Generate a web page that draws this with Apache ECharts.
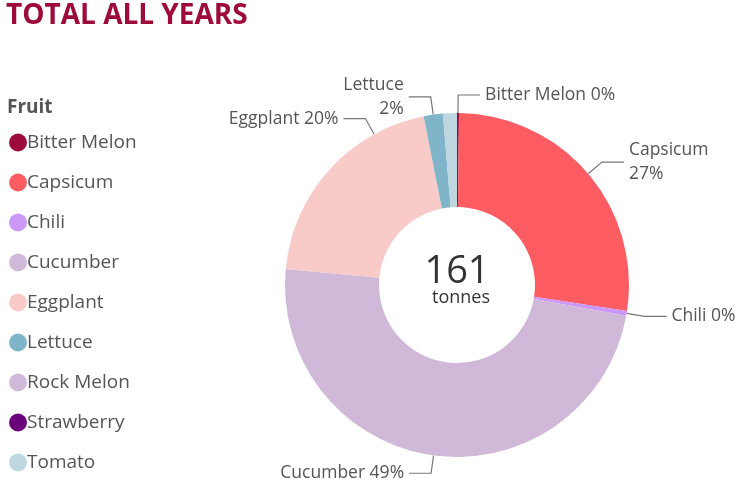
<!DOCTYPE html>
<html>
<head>
<meta charset="utf-8">
<script src="https://cdn.jsdelivr.net/npm/echarts@6/dist/echarts.min.js"></script>
<style>
  html, body { margin: 0; padding: 0; background: #fff; }
  #chart { width: 750px; height: 496px; }
</style>
</head>
<body>
<div id="chart"></div>
<script>
// data (tonnes)
var fruits = ['Bitter Melon', 'Capsicum', 'Chili', 'Cucumber', 'Eggplant', 'Lettuce', 'Rock Melon', 'Strawberry', 'Tomato'];
var tonnes = [0.3, 43.8, 0.7, 78.2, 32.8, 2.9, 0, 0, 2.1];
var colors = ['#9E0A3A', '#FD5C63', '#CB98FA', '#CFB8D8', '#F8CBC9', '#80B4C8', '#CFB8D8', '#6B037B', '#BDD6E0'];
var unit = 'tonnes';

var chart = echarts.init(document.getElementById('chart'));
var font = '"Open Sans", "Noto Sans", sans-serif';

var total = tonnes.reduce(function (a, b) { return a + b; }, 0);

var cx = 457, cy = 285, rIn = 78, rOut = 172;
var len1 = 18, len2 = 22;

// labels that Power BI wraps onto two lines
var wrapped = { 'Capsicum': true, 'Lettuce': true };
// no label shown for these
var hidden = { 'Rock Melon': true, 'Strawberry': true, 'Tomato': true };

var pieData = fruits.map(function (name, i) {
  return {
    name: name,
    value: tonnes[i],
    itemStyle: { color: colors[i] },
    label: { show: !hidden[name] },
    labelLine: { show: !hidden[name] }
  };
});

// point at angle a (degrees clockwise from 12 o'clock) and radius r
function polar(a, r) {
  var rad = a * Math.PI / 180;
  return [cx + r * Math.sin(rad), cy - r * Math.cos(rad)];
}

var option = {
  animation: false,
  title: [{
    text: 'TOTAL ALL YEARS',
    left: 1,
    top: -3,
    textStyle: { fontFamily: font, fontSize: 28, fontWeight: 'bold', color: '#9E0A3A' }
  }, {
    text: 'Fruit',
    left: 2,
    top: 93,
    textStyle: { fontFamily: font, fontSize: 19, fontWeight: 'bold', color: '#555' }
  }],
  legend: {
    orient: 'vertical',
    left: 4,
    top: 128,
    icon: 'circle',
    itemWidth: 18,
    itemHeight: 18,
    itemGap: 21,
    data: fruits,
    textStyle: { fontFamily: font, fontSize: 19, color: '#555', padding: [0, 0, 0, -5] }
  },
  graphic: [{
    type: 'text',
    x: cx,
    y: 272,
    style: {
      text: String(Math.round(total)),
      align: 'center', verticalAlign: 'middle',
      font: '38px "Open Sans", sans-serif',
      fill: '#333'
    }
  }, {
    type: 'text',
    x: cx + 4,
    y: 298,
    style: {
      text: unit,
      align: 'center', verticalAlign: 'middle',
      font: '18px "Open Sans", sans-serif',
      fill: '#333'
    }
  }],
  series: [{
    type: 'pie',
    center: [cx, cy],
    radius: [rIn, rOut],
    startAngle: 90,
    clockwise: true,
    avoidLabelOverlap: false,
    minShowLabelAngle: 0,
    label: {
      fontFamily: font,
      fontSize: 17.5,
      color: '#555',
      lineHeight: 24,
      formatter: function (p) {
        var pct = Math.round(p.percent) + '%';
        return wrapped[p.name] ? p.name + '\n' + pct : p.name + ' ' + pct;
      }
    },
    labelLine: {
      length: len1,
      length2: len2,
      lineStyle: { color: '#777', width: 1.2 }
    },
    // Power BI hooks the Eggplant label near the top of its slice, not at the middle
    labelLayout: function (p) {
      var i = p.dataIndex;
      if (fruits[i] !== 'Eggplant') return;
      var before = 0;
      for (var k = 0; k < i; k++) before += tonnes[k];
      var a0 = before / total * 360;
      var span = tonnes[i] / total * 360;
      var a = a0 + span * 0.76;
      var p0 = polar(a, rOut);
      var p1 = polar(a, rOut + len1);
      var p2 = [p1[0] - len2, p1[1]];
      return {
        x: p2[0] - 5,
        y: p2[1],
        align: 'right',
        verticalAlign: 'middle',
        labelLinePoints: [p0, p1, p2]
      };
    },
    data: pieData
  }]
};

chart.setOption(option);
</script>
</body>
</html>
